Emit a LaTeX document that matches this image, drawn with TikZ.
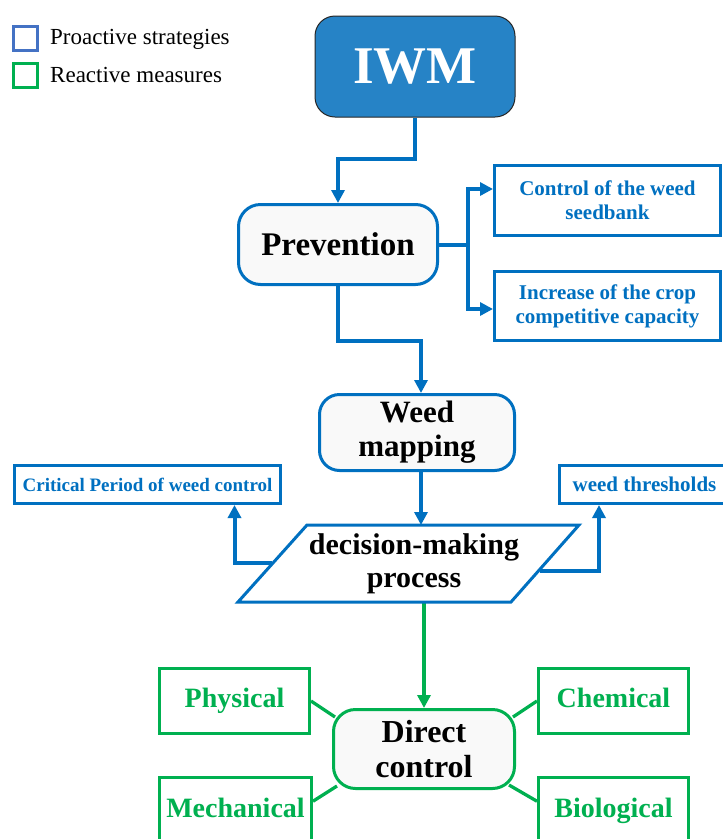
\documentclass[tikz,border=0pt]{standalone}
\usepackage{fontspec}
\setmainfont{Liberation Serif}
\usetikzlibrary{arrows.meta,calc,backgrounds}
\definecolor{cblue}{HTML}{0070C0}
\definecolor{iwmblue}{HTML}{2683C6}
\definecolor{legblue}{HTML}{4472C4}
\definecolor{cgreen}{HTML}{00B050}
\definecolor{paleg}{HTML}{F9F9F9}
\begin{document}
\begin{tikzpicture}[x=1pt,y=-1pt,
  every node/.style={inner sep=0pt, align=center},
  legsq/.style={line width=3pt, minimum size=24pt},
  legtext/.style={anchor=west, font=\fontsize{23}{26}\selectfont},
  mainbox/.style={draw=cblue, line width=3pt, rounded corners=22pt, fill=paleg, font=\bfseries\fontsize{33}{36}\selectfont},
  bluebox/.style={draw=cblue, line width=3pt, text=cblue, fill=white, font=\bfseries\fontsize{21}{24}\selectfont},
  greenbox/.style={draw=cgreen, line width=3pt, text=cgreen, fill=white, text height=19pt, text depth=6pt, font=\bfseries\fontsize{28}{32}\selectfont},
  bline/.style={draw=cblue, line width=4pt},
  barr/.style={bline, -{Triangle[width=13pt,length=13pt]}},
  gline/.style={draw=cgreen, line width=3.3pt},
  garr/.style={draw=cgreen, line width=4pt, -{Triangle[width=13pt,length=13pt]}},
]
\useasboundingbox (0,0) rectangle (723,839);
\clip (0,0) rectangle (723,839);

% legend
\node[legsq, draw=legblue] (lb) at (25,38.5) {};
\node[legtext] (lbt) at (50,39) {Proactive strategies};
\node[legsq, draw=cgreen] (lg) at (25,75) {};
\node[legtext] (lgt) at (50,75) {Reactive measures};

% main nodes
\node[draw=black!85, line width=1pt, fill=iwmblue, rounded corners=20pt,
      minimum width=200pt, minimum height=101pt, text=white,
      font=\bfseries\fontsize{53}{56}\selectfont] (iwm) at (415,66.5) {IWM};
\node[mainbox, minimum width=199pt, minimum height=80pt] (prev) at (338,244.5) {Prevention};
\node[bluebox, minimum width=226pt, minimum height=70pt] (seed) at (607.5,200.5) {Control of the weed\\seedbank};
\node[bluebox, minimum width=226pt, minimum height=69pt] (crop) at (607.5,306) {Increase of the crop\\competitive capacity};
\node[mainbox, minimum width=195pt, minimum height=76pt, rounded corners=20pt,
      font=\bfseries\fontsize{31}{34}\selectfont] (wm) at (417,432.5) {Weed\\mapping};
\node[bluebox, minimum width=266pt, minimum height=38pt,
      font=\bfseries\fontsize{19}{22}\selectfont] (crit) at (147.5,484.5) {Critical Period of weed control};
\node[bluebox, minimum width=170pt, minimum height=38pt] (thr) at (644.5,484.5) {weed thresholds};

% decision parallelogram
\coordinate (pbl) at (238,602);
\coordinate (pbr) at (511,602);
\coordinate (ptr) at (579,525);
\coordinate (ptl) at (307,525);
\draw[draw=cblue, line width=3pt, fill=white] (pbl) -- (pbr) -- (ptr) -- (ptl) -- cycle;
\node[font=\bfseries\fontsize{30}{33}\selectfont] (dm) at (414,564) {decision-making\\process};
\coordinate (dmtop) at (421,525);
\coordinate (dml) at (272,563);
\coordinate (dmr) at (540,571);
\coordinate (dmbot) at (424,602);

% direct control
\node[draw=cgreen, line width=3pt, fill=paleg, rounded corners=22pt,
      minimum width=181pt, minimum height=79pt,
      font=\bfseries\fontsize{32}{35}\selectfont] (dc) at (424,749) {Direct\\control};
\node[greenbox, minimum width=150pt, minimum height=65pt] (phys) at (234.5,701) {Physical};
\node[greenbox, minimum width=150pt, minimum height=65pt] (chem) at (613.5,701) {Chemical};
\node[greenbox, minimum width=152pt, minimum height=74pt, text height=20pt, text depth=15.5pt] (mech) at (235.5,814.75) {Mechanical};
\node[greenbox, minimum width=150pt, minimum height=74pt, text height=20pt, text depth=15.5pt] (bio) at (613.5,814.75) {Biological};

% connectors
\begin{scope}[on background layer]
\draw[barr] (iwm.south) |- ($(prev.north)+(0,-44)$) -- (prev.north);
\draw[bline] (prev.east) -- ++(29,0) coordinate (j);
\draw[barr] (j) |- ($(seed.west)+(0,-11.5)$);
\draw[barr] (j) |- ($(crop.west)+(0,3)$);
\draw[barr] (prev.south) -- ++(0,55) -| ($(wm.north)+(4,0)$);
\draw[barr] ($(wm.south)+(4,0)$) -- (dmtop);
\draw[barr] (dml) -| ($(crit.south east)+(-47.5,0)$);
\draw[barr] (dmr) -| ($(thr.south west)+(41,0)$);
\draw[garr] (dmbot) -- (dc.north);
\draw[gline] (phys.east) -- ($(dc.north west)+(3,9)$);
\draw[gline] (chem.west) -- ($(dc.north east)+(-3,9)$);
\draw[gline] ($(mech.north east)+(0,25)$) -- ($(dc.south west)+(5,-4)$);
\draw[gline] ($(bio.north west)+(0,25)$) -- ($(dc.south east)+(-7,-5)$);
\end{scope}
\end{tikzpicture}
\end{document}
